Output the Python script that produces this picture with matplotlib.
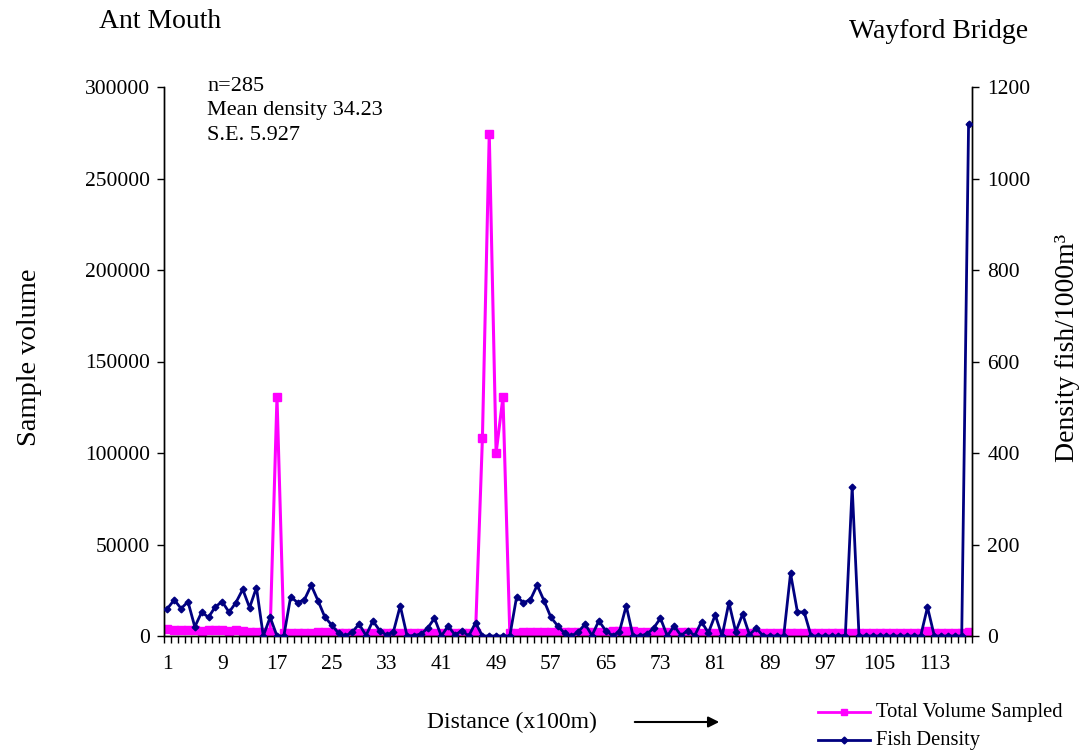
import matplotlib
matplotlib.use("Agg")
import matplotlib.pyplot as plt
from matplotlib.lines import Line2D
import numpy as np

plt.rcParams['font.family'] = ['Liberation Serif', 'DejaVu Serif']

# ---- data (118 sampling positions along the river, x100 m) ----
categories = list(range(1, 119))

fish_density = [
    60, 79, 60, 75, 20, 52, 41, 64, 75, 52,        # 1-10
    73, 102, 62, 106, 0, 41, 0, 0, 86, 73,         # 11-20
    79, 111, 77, 41, 24, 6, 0, 9, 26, 1,           # 21-30
    33, 12, 2, 9, 66, 0, 1, 4, 17, 39,             # 31-40
    0, 22, 2, 12, 0, 29, 0, 0, 0, 0,               # 41-50
    0, 86, 73, 79, 111, 77, 41, 22, 6, 0,          # 51-60
    9, 26, 1, 33, 12, 1, 9, 66, 0, 0,              # 61-70
    4, 17, 39, 0, 22, 1, 12, 1, 31, 7,             # 71-80
    46, 0, 73, 9, 48, 3, 17, 0, 0, 0,              # 81-90
    0, 137, 53, 52, 0, 0, 0, 0, 0, 1,              # 91-100
    326, 0, 0, 0, 0, 0, 0, 0, 0, 0,                # 101-110
    0, 63, 0, 0, 0, 0, 0, 1120,                    # 111-118
]

total_volume = [
    3600, 3500, 3400, 3300, 3100, 3000, 3100, 3300, 3200, 3000,
    3100, 2500, 2300, 2200, 2000, 2300, 130500, 1800, 1800, 1800,
    1800, 1900, 2000, 2100, 2000, 1900, 1800, 1800, 1700, 1800,
    1800, 1900, 1800, 1800, 1900, 1800, 1800, 1800, 1800, 1800,
    1800, 1800, 1800, 1800, 1800, 1900, 108000, 274500, 100000, 130500,
    1800, 1900, 2000, 2000, 2100, 2100, 2200, 2200, 2200, 2100,
    2000, 2000, 2100, 2200, 2400, 2800, 3000, 3000, 2500, 2200,
    2100, 2100, 2000, 2100, 2200, 2100, 2000, 2000, 1900, 1800,
    1800, 1700, 1700, 1700, 1600, 1600, 1600, 1500, 1500, 1500,
    1400, 1400, 1400, 1400, 1400, 1400, 1400, 1400, 1400, 1400,
    1800, 1400, 1400, 1400, 1400, 1400, 1400, 1400, 1400, 1400,
    1400, 2600, 1400, 1400, 1400, 1400, 1400, 2200,
]

vol_ticks = [0, 50000, 100000, 150000, 200000, 250000, 300000]
dens_ticks = [0, 200, 400, 600, 800, 1000, 1200]
label_every = 8

MAGENTA = '#FF00FF'
NAVY = '#000080'

fig = plt.figure(figsize=(10.8, 7.53), dpi=100)
ax = fig.add_axes([164/1080, 1-636/753, (972-164)/1080, (636-87)/753])
ax2 = ax.twinx()

ax.plot(categories, total_volume, color=MAGENTA, lw=2.2, marker='s',
        ms=5.2, mec=MAGENTA, mfc=MAGENTA, zorder=2)
ax2.plot(categories, fish_density, color=NAVY, lw=2.0, marker='D',
         ms=3.4, mec=NAVY, mfc=NAVY, zorder=3)

n = len(categories)
ax.set_xlim(0.5, n + 0.5)
ax.set_ylim(vol_ticks[0], vol_ticks[-1])
ax2.set_ylim(dens_ticks[0], dens_ticks[-1])

ax.set_yticks(vol_ticks)
ax.set_yticklabels([str(v) for v in vol_ticks])
ax2.set_yticks(dens_ticks)
ax2.set_yticklabels([str(v) for v in dens_ticks])

lab_pos = categories[::label_every]
ax.set_xticks(lab_pos)
ax.set_xticklabels([str(c) for c in lab_pos])
ax.set_xticks(np.arange(0.5, n + 1.0, 1.0), minor=True)
ax.tick_params(axis='x', which='major', length=0, pad=14, labelsize=15.5)
ax.tick_params(axis='x', which='minor', length=5, width=1.0, direction='out')
ax.tick_params(axis='y', which='major', length=5, width=1.0, pad=5, labelsize=15.5)
ax2.tick_params(axis='y', which='major', length=5, width=1.0, pad=6, labelsize=15.5)

for a in (ax, ax2):
    a.spines['top'].set_visible(False)
    for s in ('left', 'right', 'bottom'):
        a.spines[s].set_linewidth(1.0)
ax.patch.set_visible(False)

# texts
fig.text(160/1080, 1-22/753, 'Ant Mouth', ha='center', va='center', fontsize=20)
fig.text(939/1080, 1-32/753, 'Wayford Bridge', ha='center', va='center', fontsize=20)
fig.text(30/1080, 1-357/753, 'Sample volume', ha='center', va='center',
         rotation=90, fontsize=20.5)
fig.text(1068/1080, 1-348/753, 'Density fish/1000m\u00b3', ha='center', va='center',
         rotation=90, fontsize=20)
fig.text(207/1080, 1-77/753, 'n=285\nMean density 34.23\nS.E. 5.927',
         ha='left', va='top', fontsize=16, linespacing=1.38)

fig.text(512/1080, 1-722/753, 'Distance (x100m)', ha='center', va='center', fontsize=17)
fig.add_artist(matplotlib.patches.FancyArrowPatch(
    (632/1080, 1-722/753), (722/1080, 1-722/753), transform=fig.transFigure,
    arrowstyle='-|>', mutation_scale=16, color='black', lw=1.5))

# legend (drawn manually at the bottom right)
y1, y2 = 1-712/753, 1-740/753
fig.add_artist(Line2D([818/1080, 870/1080], [y1, y1], transform=fig.transFigure,
                      color=MAGENTA, lw=2.0))
fig.add_artist(Line2D([844/1080], [y1], transform=fig.transFigure, color=MAGENTA,
                      marker='s', ms=5))
fig.add_artist(Line2D([818/1080, 870/1080], [y2, y2], transform=fig.transFigure,
                      color=NAVY, lw=2.0))
fig.add_artist(Line2D([844/1080], [y2], transform=fig.transFigure, color=NAVY,
                      marker='D', ms=3.5))
fig.text(876/1080, y1, 'Total Volume Sampled', ha='left', va='center', fontsize=14.8)
fig.text(876/1080, y2, 'Fish Density', ha='left', va='center', fontsize=14.8)

fig.savefig('out.png', dpi=100)
